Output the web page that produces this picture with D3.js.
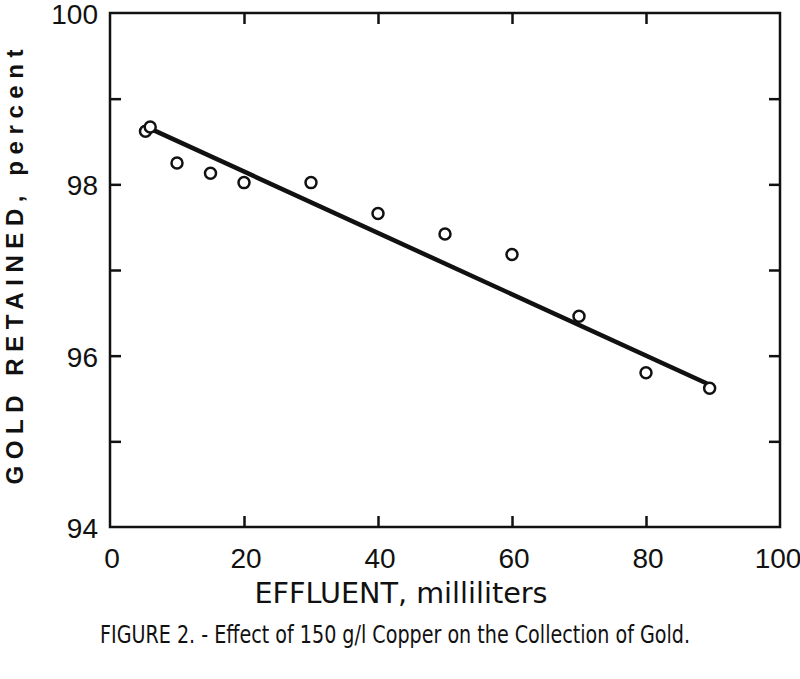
<!DOCTYPE html>
<html><head><meta charset="utf-8">
<script src="https://cdn.jsdelivr.net/npm/d3@7"></script>
<style>body{margin:0;background:#fff}svg{display:block}</style>
</head><body>
<script>
const effluent = [5.3, 6, 10, 15, 20, 30, 40, 50, 60, 70, 80, 89.5];
const goldRetained = [98.62, 98.67, 98.25, 98.13, 98.02, 98.02, 97.66, 97.42, 97.18, 96.46, 95.80, 95.62];
const fitX = [6, 89.5];
const fitY = [98.65, 95.66];
const xTicks = [0, 20, 40, 60, 80, 100];
const yTicksMajor = [94, 96, 98, 100];
const yTicksMinor = [95, 97, 99];
const xLabel = "EFFLUENT, milliliters";
const yLabel = "GOLD RETAINED, percent";
const caption = "FIGURE 2. - Effect of 150 g/l Copper on the Collection of Gold.";

const W = 800, H = 679;
const m = {left: 110, right: 20, top: 13, bottom: 152};
const svg = d3.select("body").append("svg").attr("width", W).attr("height", H);
const x = d3.scaleLinear().domain([0, 100]).range([m.left, W - m.right]);
const y = d3.scaleLinear().domain([94, 100]).range([H - m.bottom, m.top]);
const ink = "#111";
const numFont = "'Liberation Sans', Arial, sans-serif";
const narrowFont = "'Liberation Sans Narrow', 'DejaVu Sans Condensed', 'Liberation Sans', sans-serif";

// frame
svg.append("rect").attr("x", x(0)).attr("y", y(100))
  .attr("width", x(100) - x(0)).attr("height", y(94) - y(100))
  .attr("fill", "none").attr("stroke", ink).attr("stroke-width", 2.5);

// axes with inward ticks
const yTickAll = yTicksMajor.slice(1, -1).concat(yTicksMinor);
const xb = svg.append("g").attr("transform", `translate(0,${y(94)})`)
  .call(d3.axisBottom(x).tickValues(xTicks.slice(1, -1)).tickSize(-11).tickFormat(""));
const xt = svg.append("g").attr("transform", `translate(0,${y(100)})`)
  .call(d3.axisTop(x).tickValues(xTicks.slice(1, -1)).tickSize(-11).tickFormat(""));
const yl = svg.append("g").attr("transform", `translate(${x(0)},0)`)
  .call(d3.axisLeft(y).tickValues(yTickAll).tickSize(-11).tickFormat(""));
const yr = svg.append("g").attr("transform", `translate(${x(100)},0)`)
  .call(d3.axisRight(y).tickValues(yTickAll).tickSize(-11).tickFormat(""));
[xb, xt, yl, yr].forEach(g => {
  g.select(".domain").remove();
  g.selectAll(".tick line").attr("stroke", ink).attr("stroke-width", 2.5);
});

// tick labels
svg.append("g").selectAll("text").data(xTicks).join("text")
  .attr("x", d => d === 100 ? x(d) - 2 : x(d) + 2).attr("y", 568)
  .attr("text-anchor", "middle").attr("font-family", numFont).attr("font-size", 28)
  .attr("fill", ink).text(d => d);
svg.append("g").selectAll("text").data(yTicksMajor).join("text")
  .attr("x", 98).attr("y", d => y(d) + 11)
  .attr("text-anchor", "end").attr("font-family", numFont).attr("font-size", 28)
  .attr("fill", ink).text(d => d);

// fit line
svg.append("path")
  .attr("d", d3.line().x(d => x(d[0])).y(d => y(d[1]))(fitX.map((v, i) => [v, fitY[i]])))
  .attr("stroke", ink).attr("stroke-width", 4.5).attr("fill", "none");

// points
svg.append("g").selectAll("circle").data(effluent.map((v, i) => [v, goldRetained[i]])).join("circle")
  .attr("cx", d => x(d[0])).attr("cy", d => y(d[1])).attr("r", 5.5)
  .attr("fill", "#fff").attr("stroke", ink).attr("stroke-width", 2.5);

// axis titles
svg.append("text").attr("x", 401).attr("y", 603).attr("text-anchor", "middle")
  .attr("font-family", narrowFont)
  .attr("font-size", 29).attr("fill", ink)
  .attr("textLength", 293).attr("lengthAdjust", "spacingAndGlyphs").text(xLabel);
svg.append("text").attr("transform", `translate(23,267) rotate(-90)`).attr("text-anchor", "middle")
  .attr("font-family", numFont).attr("font-size", 24).attr("font-weight", "bold").attr("fill", ink)
  .attr("textLength", 435).attr("lengthAdjust", "spacing").text(yLabel);
svg.append("text").attr("x", 395).attr("y", 643).attr("text-anchor", "middle")
  .attr("font-family", narrowFont)
  .attr("font-size", 24).attr("fill", ink)
  .attr("textLength", 590).attr("lengthAdjust", "spacingAndGlyphs").text(caption);
</script>
</body></html>
